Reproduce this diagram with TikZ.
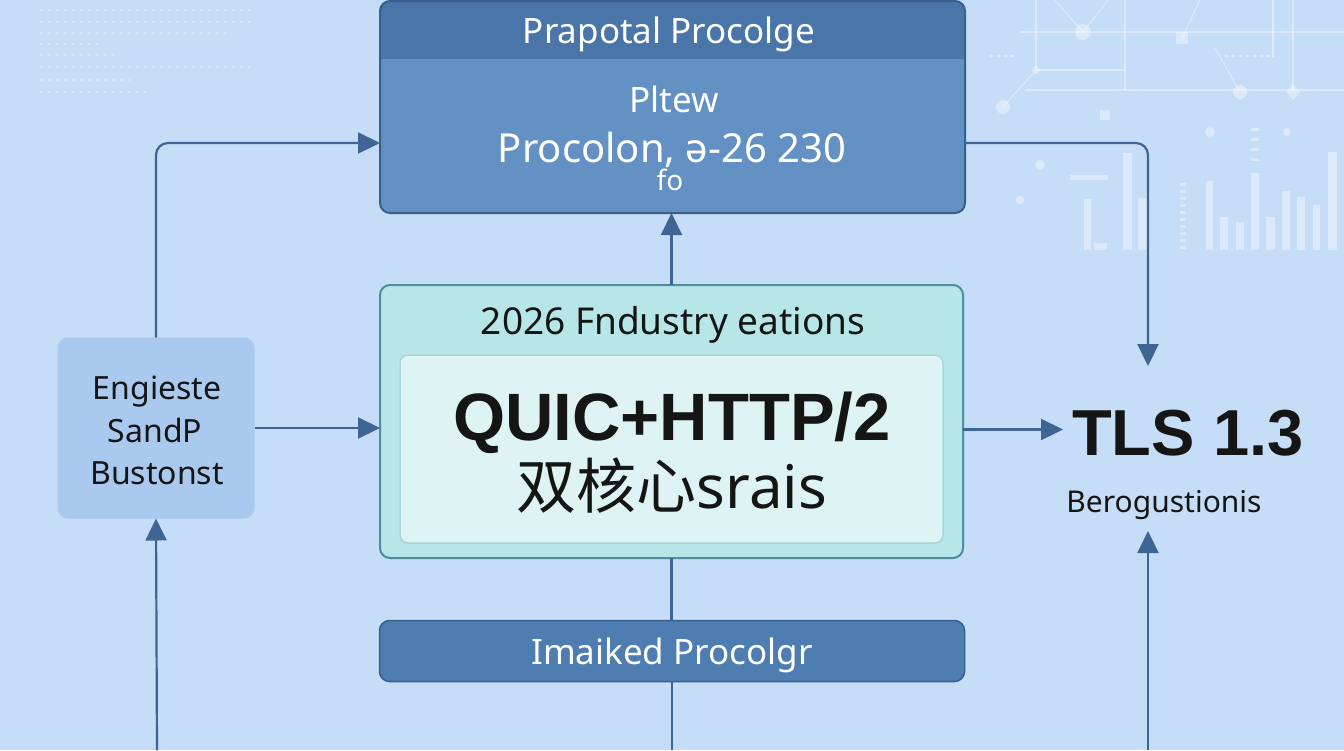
\documentclass[tikz,border=0pt]{standalone}
\usepackage{fontspec}
\setmainfont{Noto Sans}
\newfontfamily\cjkfont{Noto Sans CJK SC}
\newfontfamily\boldsans{Liberation Sans}
\usetikzlibrary{arrows.meta}
\newcommand\fsz[1]{\fontsize{#1pt}{#1pt}\selectfont}
\definecolor{bgc}{HTML}{C5DDF6}
\definecolor{headc}{HTML}{4A75A8}
\definecolor{bodyc}{HTML}{6391C4}
\definecolor{topborder}{HTML}{3B5F8C}
\definecolor{lineblue}{HTML}{3E6593}
\definecolor{leftfill}{HTML}{A9C9EE}
\definecolor{midfill}{HTML}{B6E6E8}
\definecolor{midborder}{HTML}{4F8C9E}
\definecolor{innerfill}{HTML}{DDF3F4}
\definecolor{innerborder}{HTML}{A9D5D8}
\definecolor{botfill}{HTML}{4E7DB1}
\definecolor{txtdark}{HTML}{151515}
\begin{document}
\begin{tikzpicture}[x=1pt,y=-1pt,
  boxshape/.style={rectangle, rounded corners=10pt, inner sep=0pt, outer sep=0pt},
  conn/.style={draw=lineblue, line width=2.2pt, -{Triangle[length=22pt,width=21pt]}},
  plainconn/.style={draw=lineblue, line width=2.2pt},
  deco/.style={white, opacity=0.38},
  decoline/.style={draw=white, opacity=0.38, line width=1.2pt},
  wtxt/.style={text=white, inner sep=0pt},
  dtxt/.style={text=txtdark, inner sep=0pt}]
\fill[bgc] (0,0) rectangle (1344,750);
\useasboundingbox (0,0) rectangle (1344,750);
% ---- background decorations (top left dotted rows)
\foreach \yy/\xa/\xb in {10/40/250, 22/40/250, 33/40/230, 44/40/100, 55/40/115, 67/40/250, 80/40/130, 92/40/150}
  \draw[white, opacity=0.3, line width=2pt, dash pattern=on 3pt off 5pt] (\xa,\yy) -- (\xb,\yy);
% ---- network (top right)
\draw[decoline] (1020,32) -- (1344,32);
\draw[decoline] (1036,70) -- (1125,70);
\draw[decoline] (1025,90) -- (1344,90);
\draw[decoline] (1036,0) -- (1036,70);
\draw[decoline] (1125,0) -- (1125,90);
\draw[decoline] (1273,0) -- (1273,58);
\draw[decoline] (1293,0) -- (1293,92);
\draw[decoline] (1003,107) -- (1036,70);
\draw[decoline] (1055,0) -- (1083,32) -- (1108,0);
\draw[decoline] (1182,38) -- (1200,0);
\draw[decoline] (1215,48) -- (1240,92);
\fill[deco] (1083,32) circle (8);
\fill[deco] (1003,107) circle (7);
\fill[deco] (1036,70) circle (4);
\fill[deco] (1240,92) circle (7);
\fill[deco] (1176,32) rectangle (1188,44);
\fill[deco] (1100,110) rectangle (1110,120);
\fill[deco] (1210,132) circle (5);
\fill[deco] (1287,132) circle (4);
\fill[deco] (1040,165) circle (5);
\fill[deco] (1020,200) circle (4);
\fill[deco] (1293,84) -- (1300,92) -- (1293,100) -- (1286,92) -- cycle;
\draw[white, opacity=0.38, line width=2.5pt, dash pattern=on 3pt off 4pt] (990,56) -- (1015,56);
\draw[white, opacity=0.38, line width=2.5pt, dash pattern=on 3pt off 4pt] (1225,56) -- (1275,56);
% ---- bars (right)
\foreach \xa/\xb/\yt in {1084/1091/199, 1123/1132/153, 1138/1147/198, 1206/1213/181, 1220/1228/217, 1236/1244/222, 1251/1259/173, 1266/1275/217, 1282/1290/191, 1297/1305/197, 1313/1320/205, 1328/1337/152}
  \fill[deco] (\xa,\yt) rectangle (\xb,250);
\fill[deco] (1094,243) rectangle (1107,250);
\fill[deco] (1070,175) rectangle (1108,180);
\draw[white, opacity=0.38, line width=6pt, dash pattern=on 3pt off 4pt] (1183,183) -- (1183,250);
\draw[white, opacity=0.38, line width=8pt, dash pattern=on 3pt off 7pt] (1255,128) -- (1255,168);
% ---- top box
\node[boxshape, fill=bodyc, minimum width=585pt, minimum height=212pt] (top) at (672.5,107) {};
\begin{scope}
  \clip[rounded corners=10pt] (top.north west) rectangle (top.south east);
  \fill[headc] (top.north west) rectangle ([yshift=-58pt]top.north east);
\end{scope}
\draw[topborder, line width=2pt, rounded corners=10pt] (top.north west) rectangle (top.south east);
\node[wtxt, anchor=base, font=\fsz{35}] (toph) at (669,43) {Prapotal Procolge};
\node[wtxt, anchor=base, font=\fsz{35}] (topa) at (674,112) {Pltew};
\node[wtxt, anchor=base, font=\fsz{40}] (topb) at (672,162) {Procolon, ə-26 230};
\node[wtxt, anchor=base, font=\fsz{28}] (topc) at (670,190) {fo};
% ---- middle box
\node[boxshape, fill=midfill, draw=midborder, line width=2pt, minimum width=583pt, minimum height=273pt] (mid) at (671.5,421.5) {};
\node[boxshape, rounded corners=8pt, fill=innerfill, draw=innerborder, line width=1.5pt, minimum width=543pt, minimum height=188pt] (inner) at (671.5,449) {};
\node[dtxt, anchor=base, font=\fsz{37}] (midh) at (673,334) {2026 Fndustry eations};
\node[dtxt, anchor=base, font=\boldsans\bfseries\fsz{67}] (quic) at (672,440) {QUIC+HTTP/2};
\node[dtxt, anchor=base, font=\fsz{60}] (dual) at (672,508) {{\cjkfont 双核心}srais};
% ---- left box
\node[boxshape, fill=leftfill, minimum width=197pt, minimum height=181pt] (left) at (156,428) {};
\node[dtxt, anchor=base, font=\fsz{32}] (l1) at (157,399) {Engieste};
\node[dtxt, anchor=base, font=\fsz{32}] (l2) at (155,442) {SandP};
\node[dtxt, anchor=base, font=\fsz{32}] (l3) at (157,484) {Bustonst};
% ---- right texts
\node[dtxt, anchor=base west, font=\boldsans\bfseries\fsz{65}, inner xsep=9pt] (tls) at (1063,455) {TLS 1.3};
\node[dtxt, anchor=base, font=\fsz{30}] (ber) at (1164,512) {Berogustionis};
% ---- bottom box
\node[boxshape, fill=botfill, draw=topborder, line width=1.5pt, minimum width=585pt, minimum height=61pt] (bot) at (672,651) {};
\node[wtxt, anchor=base, font=\fsz{35}] (bott) at (672,664) {Imaiked Procolgr};
% ---- connectors
\coordinate (bl) at (157,750);
\coordinate (br) at (1148,750);
\coordinate (bm) at (672,750);
\coordinate (tlsin) at (1148,366);
\coordinate (berin) at (1148,531);
\draw[conn, rounded corners=12pt] (left.north) |- ([yshift=-36pt]top.west);
\draw[conn] (left.east) -- (left.east -| mid.west);
\draw[conn] (bl) -- (left.south);
\draw[conn] (mid.north) -- (mid.north |- top.south);
\draw[conn, rounded corners=12pt] ([yshift=-36pt]top.east) -| (tlsin);
\draw[conn] ([yshift=-8pt]mid.east) -- ([yshift=-8pt]mid.east -| tls.west);
\draw[conn] (br) -- (berin);
\draw[plainconn] (mid.south) -- (mid.south |- bot.north);
\draw[plainconn] (bot.south) -- (bm);
\end{tikzpicture}
\end{document}
